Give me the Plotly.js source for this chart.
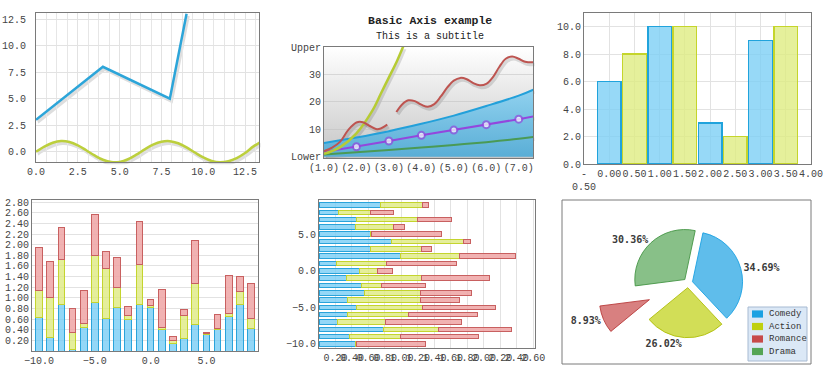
<!DOCTYPE html>
<html><head><meta charset="utf-8">
<script src="https://cdn.plot.ly/plotly-3.0.1.min.js"></script>
<style>html,body{margin:0;padding:0;background:#fff;} #chart{width:833px;height:375px;}</style>
</head><body><div id="chart"></div>
<script>
// ---------- Chart 1: lines ----------
const sineX = [0,0.5,1,1.5,2,2.5,3,3.5,4,4.5,5,5.5,6,6.5,7,7.5,8,8.5,9,9.5,10,10.5,11,11.5,12,12.5,13,13.5];
const sineY = [0,0.48,0.84,1.0,0.91,0.6,0.14,-0.35,-0.76,-0.98,-0.96,-0.71,-0.28,0.22,0.66,0.94,0.99,0.8,0.41,-0.08,-0.54,-0.88,-1.0,-0.9,-0.6,-0.12,0.5,0.98];
const polyX = [0,4,8,9];
const polyY = [3,8,5,13];

// ---------- Chart 2: Basic Axis example ----------
const axisTickVals = [1,2,3,4,5,6,7];
const axisTickText = ['(1.0)','(2.0)','(3.0)','(4.0)','(5.0)','(6.0)','(7.0)'];
const yTickVals2 = [0,10,20,30,40];
const yTickText2 = ['Lower','10','20','30','Upper'];
const areaX = [1,2,3,4,5,6,7,7.45];
const areaY = [5.0,7.0,9.3,12.0,15.0,18.5,22.3,24.5];
const greenX = [1,2,3,4,5,6,7,7.45];
const greenY = [0.8,1.6,2.4,3.3,4.3,5.3,6.5,7.2];
const purpleX = [1,2,3,4,5,6,7,7.45];
const purpleY = [1.7,3.6,5.7,7.8,9.7,11.7,13.7,14.7];
const curveX = [1,1.5,2,2.5,2.75,3,3.25,3.5];
const curveY = [1,3.5,8.5,17,23,29,35,42];
const waveX = [1.0,1.25,1.5,1.75,2.0,2.2,2.4,2.6,2.75,2.95,null,3.23,3.4,3.6,3.8,4.0,4.2,4.4,4.6,4.8,5.0,5.2,5.4,5.6,5.8,6.0,6.2,6.4,6.6,6.8,7.0,7.2,7.46];
const waveY = [2.0,3.3,5.5,9.8,12.5,12.6,11.3,10.1,10.3,11.7,null,16.3,19.0,20.6,20.3,19.0,18.2,19.2,22.0,25.3,27.8,28.8,28.3,26.9,26.1,26.6,29.0,32.8,35.8,36.6,35.8,34.7,34.5];

// ---------- Chart 3: grouped bars ----------
const bar3X1 = [0,1,2,3];
const bar3Y1 = [6,10,3,9];
const bar3X2 = [0.5,1.5,2.5,3.5];
const bar3Y2 = [8,10,2,10];
const x3TickVals = [-0.5,0,0.5,1,1.5,2,2.5,3,3.5,4];
const x3TickText = ['-<br>0.50','0.00','0.50','1.00','1.50','2.00','2.50','3.00','3.50','4.00'];

// ---------- Chart 4: vertical stacked bars ----------
const cat4 = [-10,-9,-8,-7,-6,-5,-4,-3,-2,-1,0,1,2,3,4,5,6,7,8,9];
const v4Blue   = [0.63,0.26,0.87,0.02,0.44,0.91,0.61,0.82,0.60,0.87,0.81,0.40,0.14,0.24,0.50,0.31,0.40,0.65,0.87,0.42];
const v4Yellow = [0.51,0.74,0.86,0.32,0.07,0.89,0.94,0.37,0.07,0.75,0.04,0.05,0.06,0.43,0.77,0.01,0.03,0.06,0.25,0.20];
const v4Red    = [0.81,0.68,0.60,0.46,0.63,0.77,0.32,0.56,0.16,0.82,0.11,0.71,0.07,0.11,0.80,0.02,0.25,0.71,0.29,0.65];
const y4TickVals = [0.2,0.4,0.6,0.8,1.0,1.2,1.4,1.6,1.8,2.0,2.2,2.4,2.6,2.8];

// ---------- Chart 5: horizontal stacked bars ----------
const cat5 = [-10,-9,-8,-7,-6,-5,-4,-3,-2,-1,0,1,2,3,4,5,6,7,8,9];
const h5Blue   = [0.44,0.37,0.78,0.22,0.35,0.46,0.34,0.55,0.51,0.33,0.49,0.21,0.99,0.62,0.88,0.63,0.44,0.45,0.24,0.74];
const h5Yellow = [0.02,0.62,0.67,0.59,0.73,0.80,0.89,0.68,0.25,0.91,0.22,0.61,0.72,0.62,0.87,0.01,0.46,0.75,0.38,0.52];
const h5Red    = [0.83,0.94,0.88,0.92,0.84,0.88,0.48,0.62,0.53,0.83,0.18,0.85,0.67,0.12,0.09,0.85,0.14,0.41,0.28,0.07];
const x5TickVals = [0.2,0.4,0.6,0.8,1.0,1.2,1.4,1.6,1.8,2.0,2.2,2.4,2.6];
const catTicks = [-10,-5,0,5];

// ---------- Chart 6: pie ----------
const pieLabels = ['Comedy','Action','Romance','Drama'];
const pieValues = [34.69,26.02,8.93,30.36];
const pieBase = ['#1BA1E2','#BFD010','#C74A4A','#55A555'];
const pieFill = ['rgba(27,161,226,0.7)','rgba(191,208,16,0.7)','rgba(199,74,74,0.7)','rgba(85,165,85,0.7)'];
const pieLine = ['rgba(27,161,226,0.9)','rgba(175,190,10,0.9)','rgba(185,60,60,0.9)','rgba(70,150,70,0.9)'];
const piePull = [0.094,0.094,0.84,0.094];

// ---------- helpers ----------
const W = 833, H = 375;
const dx = (a,b) => [a/W, b/W];
const dy = (t,b) => [1-b/H, 1-t/H];
const FONT = 'Liberation Mono, DejaVu Sans Mono, monospace';
const tickFont = {family: FONT, size: 10, color: '#444'};
function ax(extra) {
  return Object.assign({showline:true, mirror:true, linecolor:'#7a7a7a', linewidth:1, zeroline:false,
    showgrid:true, gridcolor:'#e2e2e2', gridwidth:1, ticks:'', tickfont:tickFont, automargin:false,
    fixedrange:true, tickangle:0}, extra);
}
function shadowAx(extra) {
  return Object.assign({visible:false, showgrid:false, zeroline:false, fixedrange:true, automargin:false}, extra);
}

// pixel boxes of each plot area
const P1 = {l:36, r:259, t:13, b:162};
const P2 = {l:324, r:533, t:47, b:158};
const SH = {x:1.5, y:2.2}; // drop-shadow offset (px)
const R1x = [0,13.33], R1y = [-0.97,13.07];
const R2x = [1,7.44], R2y = [-0.5,40.1];

const SHADOW = 'rgba(0,0,0,0.13)';
const BLUE_F = 'rgba(120,205,245,0.8)', BLUE_L = '#2aa3da';
const YEL_F = 'rgba(222,234,130,0.8)', YEL_L = '#c4d42e';
const RED_F = 'rgba(238,165,165,0.85)', RED_L = '#c86060';

const traces = [];
// shadows (drawn on offset, hidden axes: x/y for chart1, x2/y2 for chart2)
[[sineX,sineY,'spline'],[polyX,polyY,'linear']].forEach(([x,y,s]) => {
  traces.push({type:'scatter', mode:'lines', x:x, y:y, xaxis:'x', yaxis:'y', line:{color:SHADOW, width:3.5, shape:s}, hoverinfo:'skip'});
});
[[areaX,areaY],[greenX,greenY],[purpleX,purpleY],[curveX,curveY],[waveX,waveY]].forEach(([x,y]) => {
  traces.push({type:'scatter', mode:'lines', x:x, y:y, xaxis:'x2', yaxis:'y2', line:{color:SHADOW, width:3.5, shape:'spline'}, connectgaps:false, hoverinfo:'skip'});
});
// chart 1
traces.push({type:'scatter', mode:'lines', x:sineX, y:sineY, xaxis:'x3', yaxis:'y3', line:{color:'#bccf3c', width:2.5, shape:'spline'}, hoverinfo:'skip'});
traces.push({type:'scatter', mode:'lines', x:polyX, y:polyY, xaxis:'x3', yaxis:'y3', line:{color:'#2ca5d9', width:2.5}, hoverinfo:'skip'});
// chart 2
traces.push({type:'scatter', mode:'lines', x:areaX, y:areaY, xaxis:'x4', yaxis:'y4', fill:'tozeroy',
  fillcolor:'rgba(100,185,225,0.85)',
  fillgradient:{type:'vertical', colorscale:[[0,'#5aaed6'],[1,'#90d1ef']]},
  line:{color:'#22a0da', width:2, shape:'spline'}, hoverinfo:'skip'});
traces.push({type:'scatter', mode:'lines', x:greenX, y:greenY, xaxis:'x4', yaxis:'y4', line:{color:'#4a9a55', width:2, shape:'spline'}, hoverinfo:'skip'});
traces.push({type:'scatter', mode:'lines+markers', x:purpleX, y:purpleY, xaxis:'x4', yaxis:'y4', line:{color:'#9347dd', width:2},
  marker:{size:[0,7,7,7,7,7,7,0], color:'#ffffff', line:{color:'#9347dd', width:2}}, hoverinfo:'skip'});
traces.push({type:'scatter', mode:'lines', x:curveX, y:curveY, xaxis:'x4', yaxis:'y4', line:{color:'#b6cb34', width:2.5, shape:'spline'}, hoverinfo:'skip'});
traces.push({type:'scatter', mode:'lines', x:waveX, y:waveY, xaxis:'x4', yaxis:'y4', line:{color:'#bd5450', width:2, shape:'spline'}, connectgaps:false, hoverinfo:'skip'});
// chart 3
traces.push({type:'bar', x:bar3X1, y:bar3Y1, xaxis:'x5', yaxis:'y5', width:0.47, marker:{color:'rgba(125,208,245,0.8)', line:{color:'#20a3dc', width:1.5}}, hoverinfo:'skip'});
traces.push({type:'bar', x:bar3X2, y:bar3Y2, xaxis:'x5', yaxis:'y5', width:0.47, marker:{color:'rgba(222,236,130,0.8)', line:{color:'#c5d52b', width:1.5}}, hoverinfo:'skip'});
// chart 4
[[v4Blue,BLUE_F,BLUE_L],[v4Yellow,YEL_F,YEL_L],[v4Red,RED_F,RED_L]].forEach(([v,f,l]) => {
  traces.push({type:'bar', x:cat4, y:v, xaxis:'x6', yaxis:'y6', width:0.6, marker:{color:f, line:{color:l, width:1}}, hoverinfo:'skip'});
});
// chart 5
[[h5Blue,BLUE_F,BLUE_L],[h5Yellow,YEL_F,YEL_L],[h5Red,RED_F,RED_L]].forEach(([v,f,l]) => {
  traces.push({type:'bar', orientation:'h', y:cat5, x:v, xaxis:'x7', yaxis:'y7', width:0.62, marker:{color:f, line:{color:l, width:1}}, hoverinfo:'skip'});
});
// chart 6 pie
const pieCx = 688, pieCy = 283, pieR = 50;
const pieHalf = pieR * (1 + Math.max(...piePull));
traces.push({type:'pie', labels:pieLabels, values:pieValues, sort:false, direction:'clockwise', rotation:12,
  pull:piePull, marker:{colors:pieFill, line:{color:pieLine, width:1}},
  domain:{x:dx(pieCx-pieHalf, pieCx+pieHalf), y:dy(pieCy-pieHalf, pieCy+pieHalf)},
  textinfo:'percent', texttemplate:'%{percent:.2%}', textposition:'outside',
  outsidetextfont:{family:'DejaVu Sans Mono, monospace', size:10, color:'#3a3a3a', weight:'bold'},
  showlegend:false, hoverinfo:'skip'});

// P2 background gradient
const gradSvg = '<svg xmlns="http://www.w3.org/2000/svg" width="10" height="100" preserveAspectRatio="none"><defs><linearGradient id="g" x1="0" y1="0" x2="0" y2="1"><stop offset="0" stop-color="#ffffff"/><stop offset="1" stop-color="#c6c6c6"/></linearGradient></defs><rect width="10" height="100" fill="url(#g)"/></svg>';
const gradSrc = 'data:image/svg+xml;charset=utf-8,' + encodeURIComponent(gradSvg);

// manual legend for pie
const legX0 = 748, legX1 = 807, legY0 = 307, legY1 = 361;
const shapes = [
  {type:'rect', xref:'paper', yref:'paper', x0:562/W, x1:811/W, y0:1-364/H, y1:1-200/H, line:{color:'#7a7a7a', width:1}, fillcolor:'rgba(0,0,0,0)'},
  {type:'rect', xref:'paper', yref:'paper', x0:legX0/W, x1:legX1/W, y0:1-legY1/H, y1:1-legY0/H, line:{color:'#a7bad2', width:1}, fillcolor:'#dbe8f6'}
];
const annotations = [
  {text:'<b>Basic Axis example</b>', xref:'paper', yref:'paper', x:430/W, y:1-20.7/H, xanchor:'center', yanchor:'middle', showarrow:false, font:{family:FONT, size:11.5, color:'#222'}},
  {text:'This is a subtitle', xref:'paper', yref:'paper', x:430/W, y:1-36.7/H, xanchor:'center', yanchor:'middle', showarrow:false, font:{family:FONT, size:10, color:'#222'}}
];
pieLabels.forEach((lab, i) => {
  const cy = 314 + i*12.5;
  shapes.push({type:'rect', xref:'paper', yref:'paper', x0:752/W, x1:763/W, y0:1-(cy+3.6)/H, y1:1-(cy-3.6)/H, line:{width:0}, fillcolor:pieBase[i]});
  annotations.push({text:lab, xref:'paper', yref:'paper', x:767/W, y:1-cy/H, xanchor:'left', yanchor:'middle', showarrow:false, font:{family:FONT, size:9, color:'#333'}});
});

const layout = {
  width:W, height:H, margin:{l:0,r:0,t:0,b:0}, paper_bgcolor:'#ffffff', plot_bgcolor:'rgba(0,0,0,0)',
  showlegend:false, barmode:'stack', hovermode:false,
  // hidden shadow axes (offset by a couple of pixels)
  xaxis: shadowAx({domain:dx(P1.l+SH.x, P1.r+SH.x), anchor:'y', range:R1x}),
  yaxis: shadowAx({domain:dy(P1.t+SH.y, P1.b+SH.y), anchor:'x', range:R1y}),
  xaxis2: shadowAx({domain:dx(P2.l+SH.x, P2.r+SH.x), anchor:'y2', range:R2x}),
  yaxis2: shadowAx({domain:dy(P2.t+SH.y, P2.b+SH.y), anchor:'x2', range:R2y}),
  // chart 1
  xaxis3: ax({domain:dx(P1.l,P1.r), anchor:'y3', range:R1x, tick0:0, dtick:2.5, tickformat:'.1f',
    minor:{dtick:0.625, showgrid:true, gridcolor:'#e6e6e6'}}),
  yaxis3: ax({domain:dy(P1.t,P1.b), anchor:'x3', range:R1y, tick0:0, dtick:2.5, tickformat:'.1f', ticklabelstandoff:7}),
  // chart 2
  xaxis4: ax({domain:dx(P2.l,P2.r), anchor:'y4', range:R2x, tickvals:axisTickVals, ticktext:axisTickText, showgrid:false}),
  yaxis4: ax({domain:dy(P2.t,P2.b), anchor:'x4', range:R2y, tickvals:yTickVals2, ticktext:yTickText2, gridcolor:'rgba(190,190,190,0.5)'}),
  // chart 3
  xaxis5: ax({domain:dx(584,811), anchor:'y5', range:[-0.5,4.0], tickvals:x3TickVals, ticktext:x3TickText}),
  yaxis5: ax({domain:dy(13,164), anchor:'x5', range:[0,11], tick0:0, dtick:2, tickformat:'.1f'}),
  // chart 4
  xaxis6: ax({domain:dx(32,258), anchor:'y6', range:[-10.63,9.62], tickvals:catTicks, tickformat:'.1f', showgrid:false}),
  yaxis6: ax({domain:dy(200,351), anchor:'x6', range:[0,2.84], tickvals:y4TickVals, tickformat:'.2f'}),
  // chart 5
  xaxis7: ax({domain:dx(319,535), anchor:'y7', range:[0,2.62], tickvals:x5TickVals, tickformat:'.2f'}),
  yaxis7: ax({domain:dy(200,348), anchor:'x7', range:[-10.55,9.68], tickvals:catTicks, tickformat:'.1f', showgrid:false}),
  images:[{source:gradSrc, xref:'paper', yref:'paper', x:P2.l/W, y:1-P2.t/H, sizex:(P2.r-P2.l)/W, sizey:(P2.b-P2.t)/H,
    xanchor:'left', yanchor:'top', sizing:'stretch', layer:'below'}],
  shapes: shapes,
  annotations: annotations
};

Plotly.newPlot('chart', traces, layout, {staticPlot:true, displayModeBar:false});
</script></body></html>
